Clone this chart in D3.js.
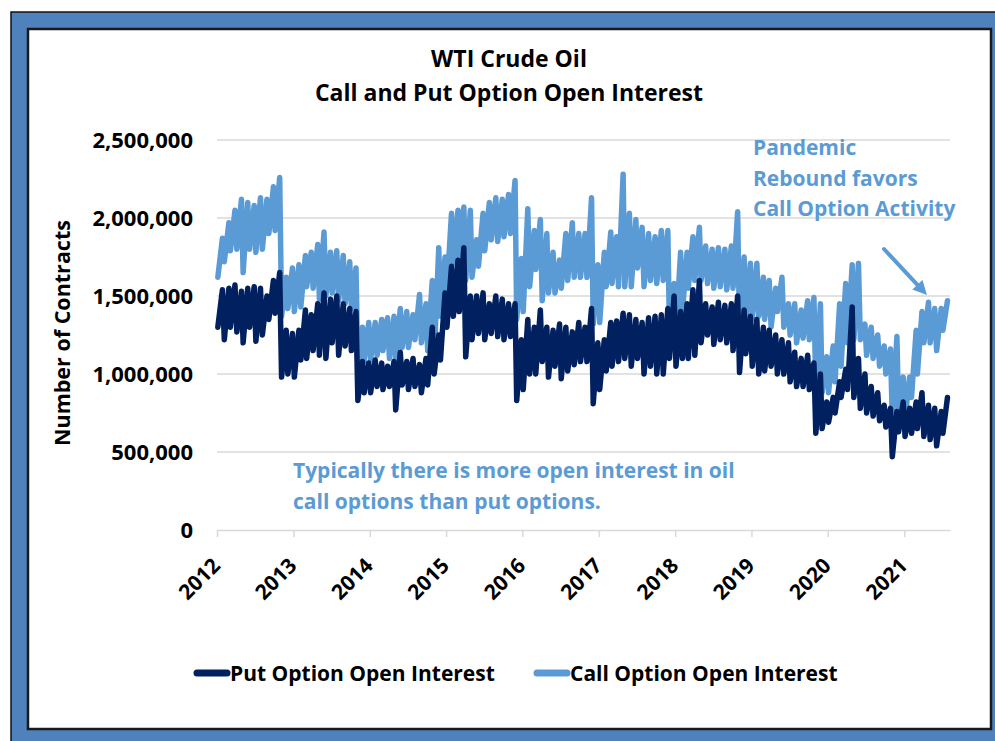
<!DOCTYPE html>
<html><head><meta charset="utf-8">
<script src="https://cdn.jsdelivr.net/npm/d3@7/dist/d3.min.js"></script>
<style>
body{margin:0;background:#fff}
svg{display:block}
text{font-family:"Open Sans",Lato,sans-serif;font-weight:700}
</style>
</head><body>
<svg id="chart" width="995" height="741"></svg>
<script>
// ---------------- data ----------------
const years = [2012,2013,2014,2015,2016,2017,2018,2019,2020,2021];
const yTicks = [0,500000,1000000,1500000,2000000,2500000];
const seriesNames = ["Put Option Open Interest","Call Option Open Interest"];
const titleLines = ["WTI Crude Oil","Call and Put Option Open Interest"];
const yTitle = "Number of Contracts";
const noteTop = ["Pandemic","Rebound favors","Call Option Activity"];
const noteBottom = ["Typically there is more open interest in oil","call options than put options."];

// monthly trough (after expiry) and peak (before expiry), Jan 2012 .. Jul 2021
const callLow = [
1620000,1720000,1790000,1800000,1650000,1800000,1780000,1800000,1900000,1920000,1370000,1420000,
1400000,1430000,1560000,1550000,1480000,1500000,1520000,1470000,1450000,1420000,1030000,1080000,
1090000,1120000,1150000,1100000,1070000,1170000,1170000,1220000,1200000,1150000,1100000,1370000,
1540000,1710000,1760000,1600000,1620000,1690000,1790000,1860000,1850000,1880000,1900000,1350000,
1400000,1560000,1670000,1470000,1520000,1520000,1550000,1600000,1620000,1620000,1620000,1320000,
1330000,1560000,1580000,1560000,1560000,1560000,1680000,1560000,1600000,1580000,1600000,1260000,
1270000,1400000,1550000,1600000,1600000,1580000,1550000,1560000,1540000,1550000,1260000,1350000,
1350000,1370000,1350000,1300000,1400000,1300000,1250000,1200000,1230000,1220000,900000,880000,
880000,950000,1050000,1200000,1220000,1220000,1120000,1100000,1050000,1000000,720000,750000,
720000,850000,1000000,1200000,1200000,1150000,1280000];
const callHigh = [
1870000,1970000,2050000,2120000,2100000,2080000,2130000,2120000,2200000,2260000,1620000,1680000,
1700000,1760000,1780000,1830000,1910000,1780000,1790000,1760000,1720000,1680000,1300000,1330000,
1330000,1350000,1360000,1370000,1420000,1400000,1380000,1510000,1450000,1600000,1810000,1750000,
2030000,2050000,2070000,2050000,1860000,2030000,2100000,2130000,2120000,2150000,2240000,1740000,
2060000,1920000,1990000,1900000,1780000,1730000,1900000,1970000,1900000,1900000,2130000,1700000,
1780000,1910000,1880000,2280000,2030000,1990000,1940000,1900000,1880000,1920000,1920000,1580000,
1780000,1780000,1880000,1940000,1820000,1800000,1810000,1800000,1820000,2040000,1750000,1710000,
1710000,1620000,1600000,1550000,1620000,1450000,1450000,1410000,1470000,1490000,1450000,1110000,
1180000,1450000,1580000,1700000,1710000,1320000,1300000,1250000,1180000,1160000,1240000,980000,
980000,1280000,1400000,1460000,1420000,1420000,1470000];
const putLow = [
1300000,1220000,1300000,1270000,1200000,1300000,1210000,1250000,1350000,1390000,980000,1000000,
980000,1090000,1100000,1150000,1120000,1100000,1200000,1120000,1180000,1150000,830000,880000,
880000,920000,900000,920000,770000,930000,900000,920000,880000,930000,1000000,1090000,
1300000,1370000,1400000,1110000,1220000,1260000,1220000,1260000,1240000,1220000,1240000,830000,
900000,1000000,1000000,1080000,980000,1050000,970000,1020000,1060000,1080000,1080000,810000,
900000,1020000,1050000,1080000,1100000,1050000,1100000,1000000,1050000,1000000,1000000,1100000,
1050000,1100000,1100000,1120000,1200000,1250000,1190000,1220000,1200000,1150000,1010000,1130000,
1050000,1000000,1020000,1050000,1000000,1000000,950000,920000,920000,900000,620000,650000,
690000,750000,850000,900000,850000,780000,750000,730000,700000,660000,470000,630000,
600000,620000,650000,600000,580000,540000,620000];
const putHigh = [
1540000,1550000,1570000,1530000,1550000,1560000,1550000,1500000,1600000,1650000,1280000,1260000,
1280000,1410000,1380000,1450000,1520000,1480000,1500000,1450000,1420000,1400000,1080000,1070000,
1090000,1070000,1050000,1080000,1140000,1080000,1100000,1060000,1100000,1300000,1250000,1520000,
1690000,1730000,1810000,1500000,1500000,1520000,1450000,1500000,1480000,1450000,1450000,1220000,
1350000,1300000,1410000,1300000,1280000,1320000,1300000,1270000,1330000,1300000,1420000,1200000,
1220000,1330000,1340000,1390000,1380000,1350000,1330000,1360000,1370000,1380000,1420000,1500000,
1400000,1450000,1540000,1600000,1450000,1430000,1460000,1440000,1450000,1500000,1410000,1370000,
1350000,1300000,1280000,1250000,1220000,1200000,1140000,1100000,1120000,1070000,1000000,820000,
850000,950000,1030000,1430000,1100000,1000000,920000,880000,800000,780000,760000,820000,
780000,820000,880000,800000,780000,760000,850000];

const colors = {put:"#002060", call:"#5b9bd5"};
const FONT = "'Open Sans', Lato, sans-serif";

function toPoints(lows, highs){
  const pts = [];
  lows.forEach((lo,i)=>{
    const yr = years[0] + Math.floor(i/12), mo = i % 12;
    pts.push({d:new Date(yr,mo,5), v:lo});
    pts.push({d:new Date(yr,mo,27), v:highs[i]});
  });
  return pts;
}
const callPts = toPoints(callLow, callHigh);
const putPts = toPoints(putLow, putHigh);

// ---------------- frame ----------------
const svg = d3.select("#chart");
svg.append("rect").attr("x",11).attr("y",12).attr("width",1000).attr("height",760)
  .attr("fill","#4f81bd").attr("stroke","#111").attr("stroke-width",1.5);
svg.append("rect").attr("x",28).attr("y",29).attr("width",963).attr("height",700)
  .attr("fill","#fff").attr("stroke","#1a1a1a").attr("stroke-width",2.5);

// ---------------- scales ----------------
const x = d3.scaleTime().domain([new Date(2012,0,1), new Date(2021,7,8)]).range([217,950]);
const y = d3.scaleLinear().domain([0,2500000]).range([530,140]);

// gridlines
svg.append("g").selectAll("line").data(yTicks.filter(v=>v>0)).join("line")
  .attr("x1",217).attr("x2",950).attr("y1",d=>y(d)).attr("y2",d=>y(d))
  .attr("stroke","#d9d9d9").attr("stroke-width",1.5);

// y labels
const yAxis = svg.append("g").attr("transform","translate(193,0)")
  .call(d3.axisLeft(y).tickValues(yTicks).tickFormat(d3.format(",")).tickSize(0).tickPadding(0));
yAxis.select(".domain").remove();
yAxis.selectAll("text").attr("font-size",22).attr("fill","#000")
  .style("font-family",FONT).style("font-weight",700).attr("dy","0.36em");

// x axis
const xAxis = svg.append("g").attr("transform","translate(0,530)")
  .call(d3.axisBottom(x).tickValues(years.map(yr=>new Date(yr,0,1)))
    .tickFormat(d3.timeFormat("%Y")).tickSize(7).tickSizeOuter(0));
xAxis.select(".domain").attr("stroke","#d9d9d9").attr("stroke-width",1.5);
xAxis.selectAll(".tick line").attr("stroke","#d9d9d9").attr("stroke-width",1.5);
xAxis.selectAll(".tick text").attr("y",0).attr("dy",0)
  .attr("transform","translate(4,37) rotate(-45)").attr("text-anchor","end")
  .attr("font-size",21).attr("fill","#000")
  .style("font-family",FONT).style("font-weight",700);

// lines
const line = d3.line().x(d=>x(d.d)).y(d=>y(d.v));
svg.append("path").datum(callPts).attr("d",line).attr("fill","none")
  .attr("stroke",colors.call).attr("stroke-width",5.5).attr("stroke-linejoin","round").attr("stroke-linecap","round");
svg.append("path").datum(putPts).attr("d",line).attr("fill","none")
  .attr("stroke",colors.put).attr("stroke-width",5.5).attr("stroke-linejoin","round").attr("stroke-linecap","round");

// title
svg.append("g").selectAll("text").data(titleLines).join("text")
  .attr("x",509).attr("y",(d,i)=>67+i*34).attr("text-anchor","middle")
  .attr("font-size",23).attr("fill","#000").text(d=>d);

// y title
svg.append("text").attr("transform","translate(70,333) rotate(-90)").attr("text-anchor","middle")
  .attr("font-size",21.5).attr("fill","#000").text(yTitle);

// annotations
svg.append("g").selectAll("text").data(noteTop).join("text")
  .attr("x",753).attr("y",(d,i)=>155+i*30.5).attr("font-size",21).attr("fill",colors.call).text(d=>d);
svg.append("g").selectAll("text").data(noteBottom).join("text")
  .attr("x",293).attr("y",(d,i)=>478+i*31).attr("font-size",21).attr("fill",colors.call).text(d=>d);

// arrow
const a0=[884,249], a1=[927,295];
const ang = Math.atan2(a1[1]-a0[1], a1[0]-a0[0]);
const headL = 14, headW = 7;
const base = [a1[0]-headL*Math.cos(ang), a1[1]-headL*Math.sin(ang)];
svg.append("line").attr("x1",a0[0]).attr("y1",a0[1]).attr("x2",base[0]).attr("y2",base[1])
  .attr("stroke",colors.call).attr("stroke-width",4).attr("stroke-linecap","round");
svg.append("path").attr("fill",colors.call)
  .attr("d",`M${a1[0]},${a1[1]}L${base[0]+headW*Math.sin(ang)},${base[1]-headW*Math.cos(ang)}L${base[0]-headW*Math.sin(ang)},${base[1]+headW*Math.cos(ang)}Z`);

// legend
const legend = [{name:seriesNames[0], c:colors.put, x:197},{name:seriesNames[1], c:colors.call, x:537}];
const lg = svg.append("g").selectAll("g").data(legend).join("g").attr("transform",d=>`translate(${d.x},673)`);
lg.append("line").attr("x1",0).attr("x2",30).attr("y1",0).attr("y2",0)
  .attr("stroke",d=>d.c).attr("stroke-width",7).attr("stroke-linecap","round");
lg.append("text").attr("x",33).attr("y",8).attr("font-size",21).attr("fill","#000").text(d=>d.name);
</script>
</body></html>
